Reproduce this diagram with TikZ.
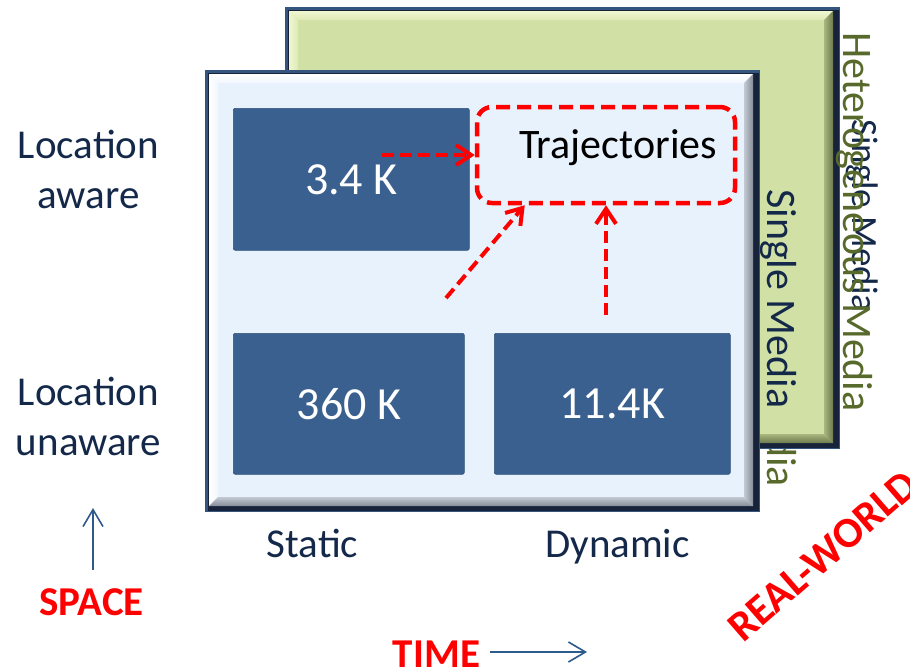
\documentclass[tikz,border=0pt]{standalone}
\usepackage{fontspec}
\setmainfont{Carlito}
\usetikzlibrary{arrows.meta}

\definecolor{framenavy}{HTML}{34567E}
\definecolor{framedark}{HTML}{17233A}
\definecolor{greenface}{HTML}{D1E1A6}
\definecolor{greenlight}{HTML}{F0F7D0}
\definecolor{greenshade}{HTML}{A9B77E}
\definecolor{greendeep}{HTML}{6E7A4E}
\definecolor{blueface}{HTML}{E8F2FD}
\definecolor{bluelight}{HTML}{FFFFFF}
\definecolor{blueshade}{HTML}{C3CAD4}
\definecolor{bluedeep}{HTML}{868D97}
\definecolor{cellblue}{HTML}{3A6090}
\definecolor{labelnavy}{HTML}{14294A}
\definecolor{olivetext}{HTML}{576A2C}
\definecolor{axisblue}{HTML}{2E5A8C}
\definecolor{hotred}{HTML}{FF0000}

% bevelled panel: x0 y0 x1 y1 face light shade deep
\newcommand\bevpanel[8]{%
  \fill[framenavy] (#1,#2) rectangle (#3,#4);
  \fill[framedark] ({#1+3},{#2+3}) rectangle ({#3-1},{#4-1});
  \fill[#5] ({#1+4},{#2+4}) rectangle ({#3-7},{#4-6});
  \shade[top color=#6, bottom color=#5!60!#6] ({#1+4},{#2+4}) -- ({#3-7},{#2+4}) -- ({#3-16},{#2+13}) -- ({#1+13},{#2+13}) -- cycle;
  \shade[left color=#6, right color=#5!60!#6] ({#1+4},{#2+4}) -- ({#1+13},{#2+13}) -- ({#1+13},{#4-15}) -- ({#1+4},{#4-6}) -- cycle;
  \shade[left color=#7, right color=#8] ({#3-7},{#2+4}) -- ({#3-7},{#4-6}) -- ({#3-16},{#4-15}) -- ({#3-16},{#2+13}) -- cycle;
  \shade[top color=#7, bottom color=#8] ({#1+4},{#4-6}) -- ({#3-7},{#4-6}) -- ({#3-16},{#4-15}) -- ({#1+13},{#4-15}) -- cycle;
}

\tikzset{
  cell/.style={draw=cellblue!85!black, line width=0.6pt, fill=cellblue,
    rounded corners=2pt, text=white, font=\fontsize{46}{50}\selectfont,
    inner sep=0pt, anchor=north west},
  sidelabel/.style={font=\fontsize{41}{50}\selectfont, text=labelnavy, inner sep=0pt, anchor=base},
  axisword/.style={font=\bfseries\fontsize{41}{48}\selectfont, text=hotred, inner sep=0pt},
  medialabel/.style={font=\fontsize{42}{50}\selectfont, inner sep=0pt, rotate=-90},
  flow/.style={draw=hotred, line width=4pt, dash pattern=on 12pt off 6pt,
    -{Straight Barb[length=15pt,width=20pt,line width=4pt]}},
  axisarrow/.style={draw=axisblue, line width=1.6pt,
    -{Straight Barb[length=17pt,width=20pt,line width=1.6pt]}},
}

\begin{document}
\begin{tikzpicture}[x=1pt, y=-1pt]
  \useasboundingbox (0,0) rectangle (910,670);
  \fill[white] (0,0) rectangle (910,670);

  % caption of the rear layer, mostly covered by the green panel
  \node[medialabel, text=olivetext, anchor=base east] (rearmedia) at (767,487) {Media};

  % middle (green) layer
  \bevpanel{285}{7}{840}{449}{greenface}{greenlight}{greenshade}{greendeep}
  \node[medialabel, text=labelnavy, anchor=base west] (greenmedia) at (767,189) {Single Media};

  % captions beside the green layer
  \node[medialabel, font=\fontsize{37}{44}\selectfont, text=labelnavy, anchor=base west] (sidesingle) at (852,119) {Single Media};
  \node[medialabel, text=olivetext, anchor=base west] (hetero) at (843,32) {Heterogeneous Media};

  % front (blue) layer
  \bevpanel{205}{70}{760}{512}{blueface}{bluelight}{blueshade}{bluedeep}

  \node[cell, minimum width=236pt, minimum height=142pt] (aware) at (233,108) {3.4 K};
  \node[cell, minimum width=231pt, minimum height=141pt] (static) at (233,333) {360 K};
  \node[cell, minimum width=236pt, minimum height=141pt] (dynamic) at (494,333) {11.4K};

  \node[draw=hotred, line width=4.5pt, dash pattern=on 14pt off 7pt, rounded corners=15pt,
        minimum width=258pt, minimum height=96pt, inner sep=0pt] (traj) at (606,155) {};
  \node[font=\fontsize{42}{50}\selectfont, text=black, inner sep=0pt, anchor=base] (trajtext) at (618,158) {Trajectories};

  \coordinate (h0) at (382,155);
  \coordinate (d0) at (446,298);
  \coordinate (v0) at (606,315);
  \draw[flow] (h0) -- (traj.west);
  \draw[flow] (d0) -- ([xshift=50pt]traj.south west);
  \draw[flow] (v0) -- (traj.south);

  % row and column captions
  \node[sidelabel] (loc1) at (88.5,158) {Location};
  \node[sidelabel] (loc2) at (88.5,208) {aware};
  \node[sidelabel] (loc3) at (88.5,405) {Location};
  \node[sidelabel] (loc4) at (88.5,455) {unaware};
  \node[sidelabel] (colstatic) at (312.5,557) {Static};
  \node[sidelabel] (coldynamic) at (617.5,557) {Dynamic};

  % axes
  \node[axisword, anchor=base] (space) at (91.5,615) {SPACE};
  \coordinate (spacetail) at (93,570);
  \coordinate (spacehead) at (93,508);
  \draw[axisarrow] (spacetail) -- (spacehead);

  \node[axisword, anchor=base] (time) at (436.5,667) {TIME};
  \coordinate (timehead) at (587,652);
  \draw[axisarrow] ([xshift=10pt]time.east |- timehead) -- (timehead);

  \node[axisword, font=\bfseries\fontsize{43}{48}\selectfont, anchor=base west, rotate=41] (realworld) at (743,644) {REAL-WORLD};
\end{tikzpicture}
\end{document}
